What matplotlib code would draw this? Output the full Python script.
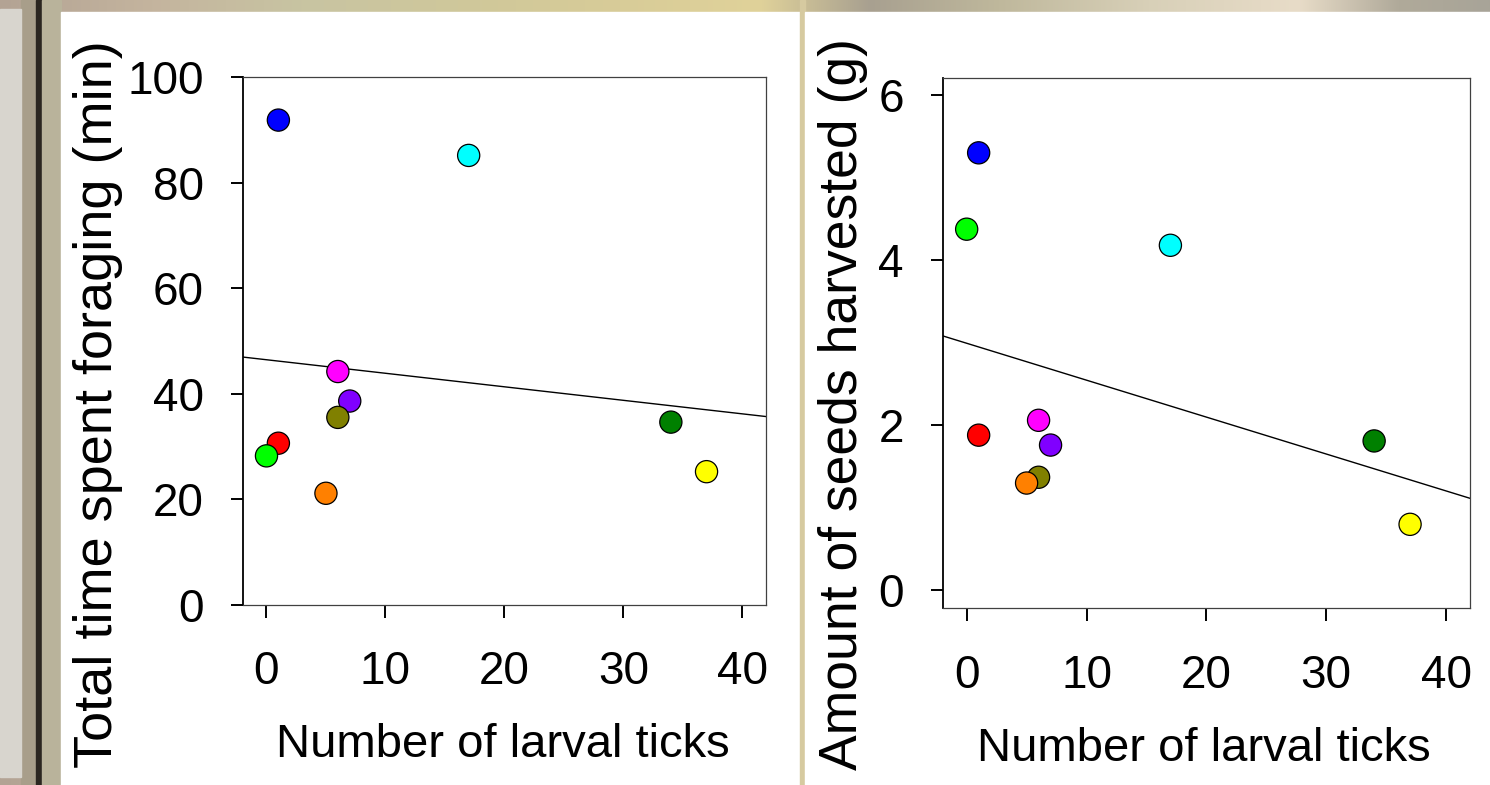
import numpy as np
import matplotlib
matplotlib.use('Agg')
import matplotlib.pyplot as plt
from matplotlib.patches import Rectangle
from matplotlib.colors import to_rgb

plt.rcParams['font.family'] = ['Liberation Sans', 'DejaVu Sans']

# ---------------- data ----------------
larval_ticks = [1, 17, 6, 7, 6, 1, 0, 5, 34, 37]
time_foraging = [91.9, 85.2, 44.2, 38.6, 35.5, 30.6, 28.2, 21.1, 34.6, 25.2]
seeds_harvested = [5.30, 4.18, 2.06, 1.76, 1.37, 1.88, 4.375, 1.30, 1.81, 0.80]
point_colors = ['#0000ff', '#00ffff', '#ff00ff', '#8000ff', '#808000',
                '#ff0000', '#00ff00', '#ff8000', '#008000', '#ffff00']
x_ticks = [0, 10, 20, 30, 40]
time_ticks = [0, 20, 40, 60, 80, 100]
seed_ticks = [0, 2, 4, 6]
x_label = 'Number of larval ticks'
time_label = 'Total time spent foraging (min)'
seed_label = 'Amount of seeds harvested (g)'

W, H = 1490, 785
fig = plt.figure(figsize=(W / 100, H / 100), dpi=100)

# ---------------- slide background ----------------
bg = fig.add_axes([0, 0, 1, 1], zorder=-10)
bg.set_xlim(0, W)
bg.set_ylim(H, 0)
bg.axis('off')
stops_x = [0, 150, 300, 480, 620, 760, 870, 1000, 1150, 1300, 1400, 1490]
stops_c = ['#b3a394', '#c4b49e', '#c8c4a2', '#d0c89a', '#d8cc98', '#e0d29a',
           '#a8a090', '#bfb89c', '#d8d0b8', '#e8dcc8', '#b0aa9a', '#a8a498']
xs = np.linspace(0, W, 400)
rgb = np.array([to_rgb(c) for c in stops_c])
grad = np.stack([np.interp(xs, stops_x, rgb[:, k]) for k in range(3)], axis=-1)
bg.imshow(grad[np.newaxis, :, :], extent=(0, W, H, 0), aspect='auto',
          interpolation='bilinear')
bg.add_patch(Rectangle((21, 0), 15, H, color='#a89e8a'))
bg.add_patch(Rectangle((0, 9), 21, 768, color='#d8d5ce'))
bg.add_patch(Rectangle((36, 0), 6, H, color='#2b2620'))
bg.add_patch(Rectangle((42, 0), 19, H, color='#b9b39b'))
bg.add_patch(Rectangle((61, 12), 738.5, H - 12, color='white'))
bg.add_patch(Rectangle((799.5, 0), 5.5, H, color='#d6caa0'))
bg.add_patch(Rectangle((805, 12), W - 805, H - 12, color='white'))


def px_axes(x0, y0, x1, y1):
    return fig.add_axes([x0 / W, 1 - y1 / H, (x1 - x0) / W, (y1 - y0) / H])


def style(ax, yticks):
    ax.set_xlim(-2, 42)
    ax.set_xticks(x_ticks)
    ax.set_yticks(yticks)
    for s in ['top', 'right', 'bottom']:
        ax.spines[s].set_color('#404040')
        ax.spines[s].set_linewidth(0.9)
    ax.spines['left'].set_color('black')
    ax.spines['left'].set_linewidth(1.3)
    ax.tick_params(axis='both', direction='out', length=9, width=1.4,
                   labelsize=33, color='black')
    ax.tick_params(axis='x', pad=24)
    ax.tick_params(axis='y', pad=19)
    ax.set_facecolor('white')


def panel(ax, y, yticks):
    style(ax, yticks)
    ax.scatter(larval_ticks, y, c=point_colors, s=255, edgecolors='black',
               linewidths=0.9, zorder=3)
    coef = np.polyfit(larval_ticks, y, 1)
    xl = np.array(ax.get_xlim())
    ax.plot(xl, np.polyval(coef, xl), color='black', lw=1.0, zorder=2)
    ax.set_xlim(-2, 42)


ax1 = px_axes(242.7, 77.4, 766, 604.5)
panel(ax1, time_foraging, time_ticks)
ax1.set_ylim(0, 100)

ax2 = px_axes(942.7, 77.7, 1470, 607.7)
panel(ax2, seeds_harvested, seed_ticks)
ax2.set_ylim(-0.21, 6.21)

# axis titles
fig.text(503 / W, 1 - 757 / H, x_label, ha='center', va='baseline', fontsize=34)
fig.text(1204 / W, 1 - 761 / H, x_label, ha='center', va='baseline', fontsize=34)
fig.text(112 / W, 1 - 40 / H, time_label, rotation=90, rotation_mode='anchor',
         ha='right', va='baseline', fontsize=39)
fig.text(857 / W, 1 - 38 / H, seed_label, rotation=90, rotation_mode='anchor',
         ha='right', va='baseline', fontsize=38.5)

fig.savefig('out.png', dpi=100)
